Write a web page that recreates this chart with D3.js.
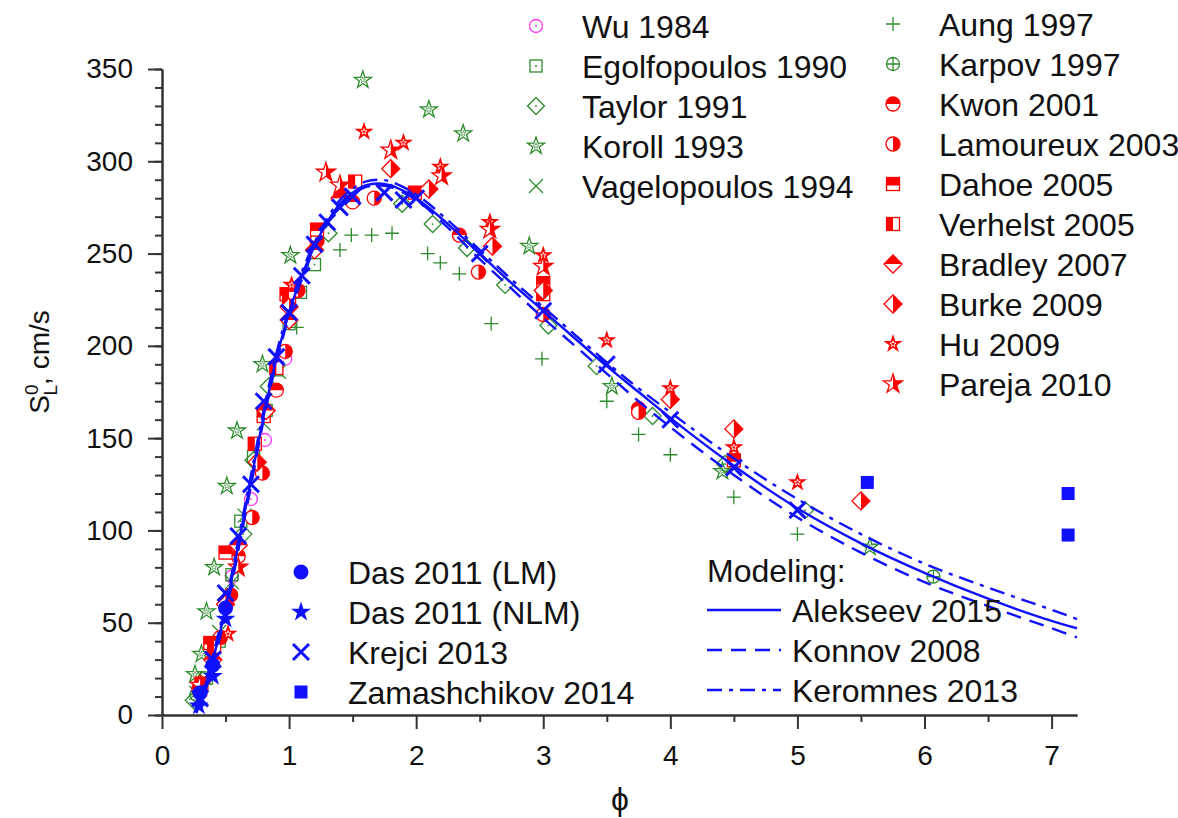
<!DOCTYPE html>
<html lang="en">
<head>
  <meta charset="UTF-8">
  <title>Laminar burning velocity of H2-air</title>
  <style>
    body { margin: 0; background: #fff; }
    svg { font-family: "Liberation Sans", Arial, sans-serif; }
    .axis path, .axis line { stroke: #333; stroke-width: 2px; }
    .axis text { font-size: 28px; fill: #111; font-family: "Liberation Sans", Arial, sans-serif; }
    .leg { font-size: 32px; fill: #111; }
  </style>
</head>
<body>
  <script src="https://d3js.org/d3.v7.min.js"></script>
  <script>
    // experimental data: [phi, S_L (cm/s)]
    const wu1984 = [[0.55,75],[0.7,117],[0.81,149],[0.97,193]];
    const egolfopoulos1990 = [[0.35,20],[0.45,40],[0.55,76],[0.62,105],[0.72,140],[0.82,165],[0.9,187],[1.0,212],[1.09,229],[1.2,244]];
    const taylor1991 = [[0.25,8],[0.64,98],[0.72,138],[0.84,178],[1.31,261],[1.89,277],[2.13,266],[2.4,253],[2.7,233],[3.04,211],[3.42,189],[3.86,162],[4.43,136],[5.06,111]];
    const koroll1993 = [[0.26,22],[0.31,33],[0.35,56],[0.41,80],[0.51,124],[0.59,154],[0.79,190],[1.01,249],[1.58,344],[2.1,328],[2.37,315],[2.89,254],[3.54,178],[4.41,132],[5.57,91]];
    const vagelopoulos1994 = [[0.27,12],[0.33,20],[0.4,34],[0.45,45],[0.55,72],[0.65,108],[0.8,158],[0.92,186]];
    const aung1997 = [[1.06,210],[1.4,252],[1.49,260],[1.65,260],[1.81,261],[2.09,250],[2.19,245],[2.34,239],[2.59,212],[2.99,193],[3.5,170],[3.75,152],[4.0,141],[4.5,118],[5.0,98]];
    const karpov1997 = [[0.27,11],[6.07,75]];
    const kwon2001 = [[0.29,14],[0.6,86],[0.9,176],[1.5,278],[2.34,260],[3.75,166]];
    const lamoureux2003 = [[0.46,42],[0.54,65],[0.71,107],[0.79,131],[0.97,197],[1.07,230],[1.22,257],[1.67,280],[2.49,240],[3.0,217],[3.75,164]];
    const dahoe2005 = [[0.31,17],[0.38,39],[0.5,88],[0.8,162],[0.98,228],[1.22,263],[1.99,283],[3.0,234],[4.5,138]];
    const verhelst2005 = [[0.3,14],[0.41,37],[0.73,147],[0.9,188],[1.0,226],[1.52,289],[3.0,228]];
    const bradley2007 = [[0.4,30],[0.6,92],[0.82,165],[1.0,214],[1.2,252],[1.4,280]];
    const burke2009 = [[0.5,60],[0.75,137],[1.0,221],[1.8,296],[2.1,285],[2.6,254],[3.0,230],[4.0,171],[4.5,155],[5.5,116]];
    const hu2009 = [[0.52,44],[1.02,233],[1.59,316],[1.9,310],[2.19,297],[2.58,267],[3.0,249],[3.5,203],[4.0,177],[4.5,145],[5.0,126]];
    const pareja2010 = [[0.3,16],[0.6,80],[1.29,294],[1.4,287],[1.8,306],[2.2,292],[2.58,263],[3.0,243]];
    const das2011LM = [[0.3,12],[0.4,27],[0.5,58]];
    const das2011NLM = [[0.29,5],[0.4,21],[0.5,52]];
    const krejci2013 = [[0.3,9],[0.4,30],[0.5,66],[0.6,97],[0.7,125],[0.8,170],[0.9,194],[1.0,218],[1.1,238],[1.2,255],[1.3,267],[1.4,275],[1.5,281],[1.75,283],[1.9,279],[2.0,280],[2.5,250],[3.0,219],[3.5,190],[4.0,160],[4.5,134],[5.0,111]];
    const zamashchikov2014 = [[5.55,126],[7.13,120],[7.13,97.5]];

    // modeling curves
    const phiModel = [0.27,0.3,0.35,0.4,0.45,0.5,0.55,0.6,0.7,0.8,0.9,1.0,1.1,1.2,1.3,1.4,1.5,1.6,1.7,1.8,1.9,2.0,2.25,2.5,2.75,3.0,3.25,3.5,3.75,4.0,4.5,5.0,5.5,6.0,6.5,7.0,7.2];
    const alekseev2015 = [2,8,18,30,43,58,74,92,127,162,193,218,238,254,267,277,283,287,288,287,284,280,266,250,234,219,204,189,175,161,135,112,93,77,63,51,47];
    const konnov2008 = [1,6,15,27,40,55,71,89,124,160,191,216,236,253,266,276,282,286,287,286,283,279,264,247,231,215,200,185,170,156,130,107,88,72,59,47,42];
    const keromnes2013 = [3,10,20,32,46,61,77,95,130,165,196,220,240,256,269,279,285,289,290,289,286,282,268,252,236,221,206,191,177,164,139,117,98,82,69,57,52];

    const xTicks = d3.range(0, 8, 1);
    const yTicks = d3.range(0, 351, 50);

    const col = { green: "#2e8b2e", red: "#ff0000", blue: "#1010ff", mag: "#ff33ff" };

    const series = [
      { name: "Wu 1984", data: wu1984, type: "circleDot" },
      { name: "Egolfopoulos 1990", data: egolfopoulos1990, type: "squareDot" },
      { name: "Taylor 1991", data: taylor1991, type: "diamondDot" },
      { name: "Koroll 1993", data: koroll1993, type: "starDot" },
      { name: "Vagelopoulos 1994", data: vagelopoulos1994, type: "xThin" },
      { name: "Aung 1997", data: aung1997, type: "plus" },
      { name: "Karpov 1997", data: karpov1997, type: "circlePlus" },
      { name: "Kwon 2001", data: kwon2001, type: "circleTop" },
      { name: "Lamoureux 2003", data: lamoureux2003, type: "circleRight" },
      { name: "Dahoe 2005", data: dahoe2005, type: "squareTop" },
      { name: "Verhelst 2005", data: verhelst2005, type: "squareLeft" },
      { name: "Bradley 2007", data: bradley2007, type: "diamondTop" },
      { name: "Burke 2009", data: burke2009, type: "diamondRight" },
      { name: "Hu 2009", data: hu2009, type: "starCore" },
      { name: "Pareja 2010", data: pareja2010, type: "starHalf" },
      { name: "Das 2011 (LM)", data: das2011LM, type: "circleFilled" },
      { name: "Das 2011 (NLM)", data: das2011NLM, type: "starFilled" },
      { name: "Krejci 2013", data: krejci2013, type: "xThick" },
      { name: "Zamashchikov 2014", data: zamashchikov2014, type: "squareFilled" }
    ];
    const models = [
      { name: "Alekseev 2015", values: alekseev2015, dash: null },
      { name: "Konnov 2008", values: konnov2008, dash: "15,9" },
      { name: "Keromnes 2013", values: keromnes2013, dash: "15,7,4,7" }
    ];

    const width = 1178, height = 818;
    const svg = d3.select("body").append("svg").attr("width", width).attr("height", height);
    const defs = svg.append("defs");
    defs.append("clipPath").attr("id", "rightHalf").attr("clipPathUnits", "objectBoundingBox")
      .append("rect").attr("x", 0.5).attr("y", 0).attr("width", 0.5).attr("height", 1);

    const x = d3.scaleLinear().domain([0, 7.2]).range([162, 1077]);
    const y = d3.scaleLinear().domain([0, 350]).range([715, 69]);

    const starD = R => d3.symbol().type(d3.symbolStar).size(R * R / 0.8908130915292852)();

    function marker(g, type) {
      const G = col.green, R = col.red, B = col.blue;
      switch (type) {
        case "circleDot":
          g.append("circle").attr("r", 6.5).attr("fill", "none").attr("stroke", col.mag).attr("stroke-width", 1.3);
          g.append("circle").attr("r", 0.9).attr("fill", col.mag); break;
        case "squareDot":
          g.append("rect").attr("x", -6).attr("y", -6).attr("width", 12).attr("height", 12)
            .attr("fill", "none").attr("stroke", G).attr("stroke-width", 1.3);
          g.append("circle").attr("r", 0.9).attr("fill", G); break;
        case "diamondDot":
          g.append("path").attr("d", "M0,-8.5L8.5,0L0,8.5L-8.5,0Z").attr("fill", "none").attr("stroke", G).attr("stroke-width", 1.3);
          g.append("circle").attr("r", 0.9).attr("fill", G); break;
        case "starDot":
          g.append("path").attr("d", starD(9)).attr("fill", "none").attr("stroke", G).attr("stroke-width", 1.3);
          g.append("path").attr("d", starD(3)).attr("fill", "none").attr("stroke", G).attr("stroke-width", 0.6); break;
        case "xThin":
          g.append("path").attr("d", "M-7,-7L7,7M-7,7L7,-7").attr("stroke", G).attr("stroke-width", 1.3); break;
        case "plus":
          g.append("path").attr("d", "M-7,0L7,0M0,-7L0,7").attr("stroke", G).attr("stroke-width", 1.3); break;
        case "circlePlus":
          g.append("circle").attr("r", 6.5).attr("fill", "none").attr("stroke", G).attr("stroke-width", 1.3);
          g.append("path").attr("d", "M-6.5,0L6.5,0M0,-6.5L0,6.5").attr("stroke", G).attr("stroke-width", 1.3); break;
        case "circleTop":
          g.append("circle").attr("r", 7).attr("fill", "#fff").attr("stroke", R).attr("stroke-width", 1.3);
          g.append("path").attr("d", "M-7,0A7,7 0 0 1 7,0Z").attr("fill", R); break;
        case "circleRight":
          g.append("circle").attr("r", 7).attr("fill", "#fff").attr("stroke", R).attr("stroke-width", 1.3);
          g.append("path").attr("d", "M0,-7A7,7 0 0 1 0,7Z").attr("fill", R); break;
        case "squareTop":
          g.append("rect").attr("x", -6.5).attr("y", -6.5).attr("width", 13).attr("height", 13)
            .attr("fill", "#fff").attr("stroke", R).attr("stroke-width", 1.3);
          g.append("rect").attr("x", -6.5).attr("y", -6.5).attr("width", 13).attr("height", 8).attr("fill", R); break;
        case "squareLeft":
          g.append("rect").attr("x", -6.5).attr("y", -6.5).attr("width", 13).attr("height", 13)
            .attr("fill", "#fff").attr("stroke", R).attr("stroke-width", 1.3);
          g.append("rect").attr("x", -6.5).attr("y", -6.5).attr("width", 6.5).attr("height", 13).attr("fill", R); break;
        case "diamondTop":
          g.append("path").attr("d", "M0,-9L9,0L0,9L-9,0Z").attr("fill", "#fff").attr("stroke", R).attr("stroke-width", 1.3);
          g.append("path").attr("d", "M0,-9L9,0L-9,0Z").attr("fill", R); break;
        case "diamondRight":
          g.append("path").attr("d", "M0,-9L9,0L0,9L-9,0Z").attr("fill", "#fff").attr("stroke", R).attr("stroke-width", 1.3);
          g.append("path").attr("d", "M0,-9L9,0L0,9Z").attr("fill", R); break;
        case "starCore":
          g.append("path").attr("d", starD(10)).attr("fill", R);
          g.append("path").attr("d", starD(3.2)).attr("fill", "none").attr("stroke", "#fff").attr("stroke-width", 0.8); break;
        case "starHalf":
          g.append("path").attr("d", starD(10)).attr("fill", "#fff").attr("stroke", R).attr("stroke-width", 1.3);
          g.append("path").attr("d", starD(10)).attr("fill", R).attr("clip-path", "url(#rightHalf)"); break;
        case "circleFilled":
          g.append("circle").attr("r", 7.5).attr("fill", B); break;
        case "starFilled":
          g.append("path").attr("d", starD(10.5)).attr("fill", B); break;
        case "xThick":
          g.append("path").attr("d", "M-8,-8L8,8M-8,8L8,-8").attr("stroke", B).attr("stroke-width", 3); break;
        case "squareFilled":
          g.append("rect").attr("x", -6.5).attr("y", -6.5).attr("width", 13).attr("height", 13).attr("fill", B); break;
      }
    }

    // axes: minor ticks then major ticks
    svg.append("g").attr("class", "axis").attr("transform", "translate(0,715)")
      .call(d3.axisBottom(x).tickValues(d3.range(0.5, 7.2, 1)).tickSize(7).tickSizeOuter(0).tickFormat(""));
    svg.append("g").attr("class", "axis").attr("transform", "translate(0,715)")
      .call(d3.axisBottom(x).tickValues(xTicks).tickSize(14).tickSizeOuter(0).tickPadding(16).tickFormat(d3.format("d")));
    svg.append("g").attr("class", "axis").attr("transform", "translate(162,0)")
      .call(d3.axisLeft(y).tickValues(d3.range(0, 351, 10)).tickSize(7).tickSizeOuter(0).tickFormat(""));
    svg.append("g").attr("class", "axis").attr("transform", "translate(162,0)")
      .call(d3.axisLeft(y).tickValues(yTicks).tickSize(14).tickSizeOuter(0).tickPadding(15));

    // axis titles
    const yl = svg.append("text").attr("transform", "translate(49,362) rotate(-90)")
      .attr("text-anchor", "middle").attr("font-size", 28).attr("fill", "#111");
    yl.append("tspan").text("S");
    yl.append("tspan").attr("font-size", 19).attr("dy", -11).text("0");
    yl.append("tspan").attr("font-size", 19).attr("dx", -11).attr("dy", 19).text("L");
    yl.append("tspan").attr("dy", -8).text(", cm/s");

    svg.append("text").attr("x", 620).attr("y", 810).attr("text-anchor", "middle")
      .attr("font-size", 32).attr("fill", "#111").text("ϕ");

    // scatter: green/magenta/red first
    const plot = svg.append("g");
    function drawSeries(s) {
      plot.append("g").selectAll("g").data(s.data).join("g")
        .attr("transform", d => `translate(${x(d[0])},${y(d[1])})`)
        .each(function () { marker(d3.select(this), s.type); });
    }
    series.slice(0, 15).forEach(drawSeries);

    // model curves
    const line = d3.line().curve(d3.curveMonotoneX);
    models.forEach(m => {
      plot.append("path")
        .attr("d", line(phiModel.map((p, i) => [x(p), y(m.values[i])])))
        .attr("fill", "none").attr("stroke", col.blue).attr("stroke-width", 2.4)
        .attr("stroke-dasharray", m.dash);
    });

    series.slice(15).forEach(drawSeries);

    // legends
    const leg = svg.append("g");
    function legendBlock(items, mx, tx, y0, step) {
      items.forEach((s, i) => {
        const g = leg.append("g").attr("transform", `translate(${mx},${y0 + i * step})`);
        marker(g, s.type);
        leg.append("text").attr("class", "leg").attr("x", tx).attr("y", y0 + i * step).attr("dy", "0.36em").text(s.name);
      });
    }
    legendBlock(series.slice(0, 5), 536, 582, 26, 40);
    legendBlock(series.slice(5, 15), 893, 939, 24, 40);
    legendBlock(series.slice(15), 301, 348, 572, 40);

    leg.append("text").attr("class", "leg").attr("x", 707).attr("y", 570).attr("dy", "0.36em").text("Modeling:");
    models.forEach((m, i) => {
      const yy = 610 + i * 40;
      leg.append("line").attr("x1", 707).attr("x2", 781).attr("y1", yy).attr("y2", yy)
        .attr("stroke", col.blue).attr("stroke-width", 2.4).attr("stroke-dasharray", m.dash);
      leg.append("text").attr("class", "leg").attr("x", 792).attr("y", yy).attr("dy", "0.36em").text(m.name);
    });
  </script>
</body>
</html>
